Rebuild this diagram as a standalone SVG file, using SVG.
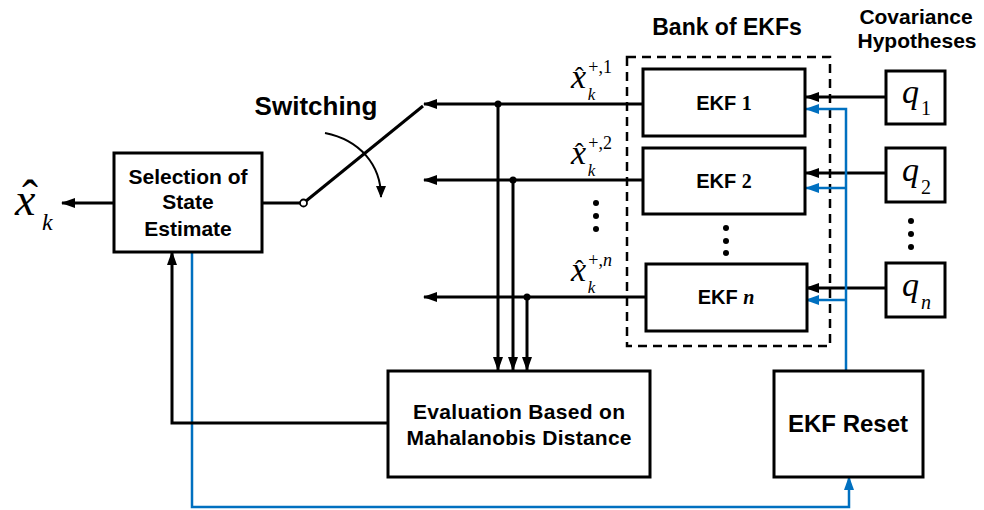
<svg xmlns="http://www.w3.org/2000/svg" width="984" height="510" viewBox="0 0 984 510">
<defs>
<style>
.box{fill:#fff;stroke:#000;stroke-width:3}
.ln{fill:none;stroke:#000;stroke-width:3}
.bl{fill:none;stroke:#0070C0;stroke-width:2.5}
.lbl{font-family:"Liberation Sans",Arial,sans-serif;font-weight:bold;fill:#000;text-anchor:middle}
.m{font-family:"Liberation Serif","Times New Roman",serif;font-style:italic;fill:#000}
.r{font-family:"Liberation Serif","Times New Roman",serif;font-style:normal;fill:#000}
.dot{fill:#000}
</style>
<marker id="ah" viewBox="0 0 14 10" refX="13" refY="5" markerWidth="14" markerHeight="10" markerUnits="userSpaceOnUse" orient="auto"><path d="M0,0 L14,5 L0,10 z" fill="#000"/></marker>
<marker id="ahb" viewBox="0 0 14 10" refX="13" refY="5" markerWidth="14" markerHeight="10" markerUnits="userSpaceOnUse" orient="auto"><path d="M0,0 L14,5 L0,10 z" fill="#0070C0"/></marker>
<marker id="ahs" viewBox="0 0 12 10" refX="11" refY="5" markerWidth="12" markerHeight="10" markerUnits="userSpaceOnUse" orient="auto"><path d="M0,0 L12,5 L0,10 z" fill="#000"/></marker>
</defs>
<rect width="984" height="510" fill="#fff"/>

<!-- Titles -->
<text class="lbl" x="727" y="35" font-size="23">Bank of EKFs</text>
<text class="lbl" x="916" y="24" font-size="21">Covariance</text>
<text class="lbl" x="917" y="48" font-size="21">Hypotheses</text>
<text class="lbl" x="316" y="115" font-size="26">Switching</text>

<!-- bank dashed -->
<rect x="627" y="57" width="203" height="289" fill="none" stroke="#000" stroke-width="2.5" stroke-dasharray="9,6"/>

<g id="connectors">
  <line class="ln" x1="643" y1="104" x2="424" y2="104" marker-end="url(#ah)"/>
  <line class="ln" x1="643" y1="180" x2="424" y2="180" marker-end="url(#ah)"/>
  <line class="ln" x1="646" y1="297" x2="424" y2="297" marker-end="url(#ah)"/>
  <line class="ln" x1="498" y1="104" x2="498" y2="370" marker-end="url(#ah)"/>
  <line class="ln" x1="513" y1="180" x2="513" y2="370" marker-end="url(#ah)"/>
  <line class="ln" x1="527" y1="297" x2="527" y2="370" marker-end="url(#ah)"/>
  <circle class="dot" cx="498" cy="104" r="3.5"/>
  <circle class="dot" cx="513" cy="180" r="3.5"/>
  <circle class="dot" cx="527" cy="297" r="3.5"/>
  <line class="ln" x1="886" y1="97" x2="806" y2="97" marker-end="url(#ah)"/>
  <line class="ln" x1="886" y1="173" x2="806" y2="173" marker-end="url(#ah)"/>
  <line class="ln" x1="886" y1="288" x2="806" y2="288" marker-end="url(#ah)"/>
  <polyline class="bl" points="846,371 846,109 806,109" marker-end="url(#ahb)"/>
  <line class="bl" x1="846" y1="188" x2="806" y2="188" marker-end="url(#ahb)"/>
  <line class="bl" x1="846" y1="300" x2="806" y2="300" marker-end="url(#ahb)"/>
  <polyline class="bl" points="192,252 192,507 849,507 849,477" marker-end="url(#ahb)"/>
  <polyline class="ln" points="388,423 172,423 172,252" marker-end="url(#ah)"/>
  <line class="ln" x1="114" y1="203" x2="62" y2="203" marker-end="url(#ah)"/>
  <line class="ln" x1="262" y1="203" x2="300" y2="203"/>
  <line class="ln" x1="306" y1="201" x2="423" y2="106"/>
  <circle cx="303.5" cy="203" r="3.5" fill="#fff" stroke="#000" stroke-width="1.8"/>
  <path d="M325,133 C360,140 381,165 381,197" fill="none" stroke="#000" stroke-width="2" marker-end="url(#ahs)"/>
</g>

<g fill="#000">
  <circle cx="596" cy="203" r="3"/><circle cx="596" cy="216" r="3"/><circle cx="596" cy="229" r="3"/>
  <circle cx="726" cy="228" r="3"/><circle cx="726" cy="241" r="3"/><circle cx="726" cy="253" r="3"/>
  <circle cx="911" cy="221" r="3"/><circle cx="911" cy="234" r="3"/><circle cx="911" cy="247" r="3"/>
</g>

<g id="labels">
  <text x="571" y="88"><tspan class="m" font-size="34">x</tspan><tspan class="r" font-size="26" dx="-11" dy="-3">ˆ</tspan><tspan class="m" font-size="17" dx="4" dy="15">k</tspan><tspan class="r" font-size="18" dx="-7" dy="-27">+,1</tspan></text>
  <text x="571" y="164"><tspan class="m" font-size="34">x</tspan><tspan class="r" font-size="26" dx="-11" dy="-3">ˆ</tspan><tspan class="m" font-size="17" dx="4" dy="15">k</tspan><tspan class="r" font-size="18" dx="-7" dy="-27">+,2</tspan></text>
  <text x="571" y="281"><tspan class="m" font-size="34">x</tspan><tspan class="r" font-size="26" dx="-11" dy="-3">ˆ</tspan><tspan class="m" font-size="17" dx="4" dy="15">k</tspan><tspan class="r" font-size="18" dx="-7" dy="-27">+,</tspan><tspan class="m" font-size="18">n</tspan></text>
  <text x="15" y="215"><tspan class="m" font-size="46">x</tspan><tspan class="r" font-size="48" dx="-13.5" dy="-1">ˆ</tspan><tspan class="m" font-size="24" dx="4" dy="16">k</tspan></text>
</g>

<g id="selection">
  <rect class="box" x="114" y="153" width="148" height="99"/>
  <text class="lbl" x="188" y="184" font-size="21">Selection of</text>
  <text class="lbl" x="188" y="209" font-size="21">State</text>
  <text class="lbl" x="188" y="236" font-size="21">Estimate</text>
</g>

<g id="ekf1">
  <rect class="box" x="643" y="69" width="162" height="67"/>
  <text class="lbl" x="724" y="110" font-size="20">EKF <tspan class="r" font-weight="bold">1</tspan></text>
</g>
<g id="ekf2">
  <rect class="box" x="643" y="148" width="162" height="66"/>
  <text class="lbl" x="724" y="188" font-size="20">EKF <tspan class="r" font-weight="bold">2</tspan></text>
</g>
<g id="ekfn">
  <rect class="box" x="646" y="264" width="161" height="67"/>
  <text class="lbl" x="726" y="304" font-size="20">EKF <tspan class="m" font-weight="bold">n</tspan></text>
</g>

<g id="q1">
  <rect class="box" x="886" y="71" width="59" height="53"/>
  <text x="902" y="103"><tspan class="m" font-size="34">q</tspan><tspan class="r" font-size="20" dx="2" dy="12">1</tspan></text>
</g>
<g id="q2">
  <rect class="box" x="886" y="148" width="59" height="54"/>
  <text x="902" y="181"><tspan class="m" font-size="34">q</tspan><tspan class="r" font-size="20" dx="2" dy="13">2</tspan></text>
</g>
<g id="qn">
  <rect class="box" x="886" y="263" width="59" height="54"/>
  <text x="902" y="296"><tspan class="m" font-size="34">q</tspan><tspan class="m" font-size="20" dx="2" dy="13">n</tspan></text>
</g>

<g id="evaluation">
  <rect class="box" x="388" y="371" width="262" height="106"/>
  <text class="lbl" x="519" y="419" font-size="21" textLength="212">Evaluation Based on</text>
  <text class="lbl" x="519" y="445" font-size="21" textLength="225">Mahalanobis Distance</text>
</g>

<g id="reset">
  <rect class="box" x="774" y="371" width="149" height="106"/>
  <text class="lbl" x="848" y="432" font-size="24">EKF Reset</text>
</g>
</svg>
